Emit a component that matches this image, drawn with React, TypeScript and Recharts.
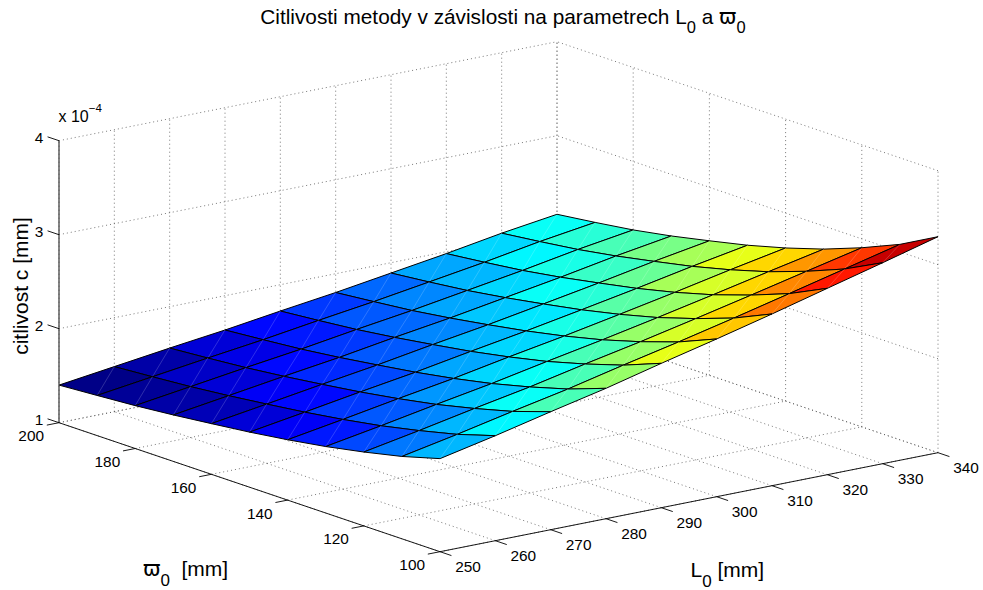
import { ScatterChart, Scatter, XAxis, YAxis } from 'recharts'

// L0 [mm] along one side, w0 [mm] along the other
const lValues = [250, 260, 270, 280, 290, 300, 310, 320, 330, 340]
const wValues = [100, 110, 120, 130, 140, 150, 160, 170, 180, 190, 200]

// citlivost c [x 10^-4 mm], one row per L0, one column per w0
const zGrid = [
  [1.99, 1.876, 1.786, 1.707, 1.642, 1.586, 1.539, 1.494, 1.456, 1.427, 1.4],
  [2.117, 1.994, 1.897, 1.811, 1.741, 1.681, 1.63, 1.582, 1.541, 1.509, 1.48],
  [2.255, 2.121, 2.015, 1.921, 1.845, 1.779, 1.723, 1.671, 1.626, 1.591, 1.56],
  [2.387, 2.242, 2.127, 2.026, 1.943, 1.872, 1.812, 1.755, 1.706, 1.669, 1.635],
  [2.536, 2.379, 2.254, 2.144, 2.055, 1.977, 1.912, 1.851, 1.798, 1.757, 1.72],
  [2.678, 2.509, 2.374, 2.257, 2.16, 2.077, 2.006, 1.94, 1.883, 1.84, 1.8],
  [2.827, 2.646, 2.503, 2.377, 2.274, 2.185, 2.11, 2.04, 1.979, 1.932, 1.89],
  [2.983, 2.789, 2.636, 2.502, 2.391, 2.296, 2.216, 2.14, 2.075, 2.025, 1.98],
  [3.138, 2.934, 2.772, 2.63, 2.514, 2.413, 2.329, 2.249, 2.181, 2.128, 2.08],
  [3.298, 3.079, 2.906, 2.754, 2.629, 2.521, 2.431, 2.345, 2.272, 2.215, 2.164],
]

const lTicks = [250, 260, 270, 280, 290, 300, 310, 320, 330, 340]
const wTicks = [100, 120, 140, 160, 180, 200]
const zTicks = [1, 2, 3, 4]

const WIDTH = 983
const HEIGHT = 590
const FONT = '"Liberation Sans", Arial, sans-serif'
const SYMBOL_FONT = '"DejaVu Sans", sans-serif'

// colour limits of the jet map
const cLow = 1.454
const cHigh = 3.24

// orthographic view of the 3D box onto the flat chart axes
const project = (l: number, w: number, z: number) => ({
  x: 440 + ((l - 250) * 498) / 90 - ((w - 100) * 381) / 100,
  y: 551.7 - ((l - 250) * 99) / 90 - ((w - 100) * 129) / 100 - (z - 1) * 94,
})

const jet = (t: number) => {
  const n = Math.min(63, Math.max(0, Math.floor(t * 64)))
  const v = (n + 0.5) / 64
  const ch = (a: number) => Math.round(255 * Math.max(0, Math.min(1, a)))
  const r = ch(Math.min(4 * v - 1.5, -4 * v + 4.5))
  const g = ch(Math.min(4 * v - 0.5, -4 * v + 3.5))
  const b = ch(Math.min(4 * v + 0.5, -4 * v + 2.5))
  return `rgb(${r},${g},${b})`
}

const cellMean = (i: number, j: number) =>
  (zGrid[i][j] + zGrid[i + 1][j] + zGrid[i][j + 1] + zGrid[i + 1][j + 1]) / 4

// back corner first so nearer cells paint over farther ones
const cells: { i: number; j: number }[] = []
for (let i = lValues.length - 2; i >= 0; i--) {
  for (let j = wValues.length - 2; j >= 0; j--) cells.push({ i, j })
}

const NoDot = () => null

const gridStyle = { stroke: '#555', strokeWidth: 0.8, strokeDasharray: '1 3' }
const axisStyle = { stroke: '#000', strokeWidth: 0.9 }
const zAxisStyle = { stroke: '#444', strokeWidth: 1.3 }

const lMin = lValues[0]
const lMax = lValues[lValues.length - 1]
const wMin = wValues[0]
const wMax = wValues[wValues.length - 1]

const gridLines = [
  ...lTicks.map((l) => [project(l, wMax, 1), project(l, wMax, 4)]),
  ...lTicks.map((l) => [project(l, wMin, 1), project(l, wMax, 1)]),
  ...wTicks.map((w) => [project(lMax, w, 1), project(lMax, w, 4)]),
  ...wTicks.map((w) => [project(lMin, w, 1), project(lMax, w, 1)]),
  ...zTicks.map((z) => [project(lMin, wMax, z), project(lMax, wMax, z)]),
  ...zTicks.map((z) => [project(lMax, wMin, z), project(lMax, wMax, z)]),
]

const zAxisLine = [project(lMin, wMax, 1), project(lMin, wMax, 4)]

const axisLines = [
  [project(lMin, wMin, 1), project(lMin, wMax, 1)],
  [project(lMin, wMin, 1), project(lMax, wMin, 1)],
  ...wTicks.map((w) => [project(lMin, w, 1), project(lMin - 2.2, w, 1)]),
  ...lTicks.map((l) => [project(l, wMin, 1), project(l, wMin - 3, 1)]),
  ...zTicks.map((z) => [project(lMin, wMax, z), project(lMin, wMax + 3, z)]),
]

const wLabels = wTicks.map((w) => ({ ...project(lMin, w, 1), label: String(w) }))
const lLabels = lTicks.map((l) => ({ ...project(l, wMin, 1), label: String(l) }))
const zLabels = zTicks.map((z) => ({ ...project(lMin, wMax, z), label: String(z) }))

const tickText = (dx: number, dy: number) => (props: any) => (
  <text
    x={props.cx + dx}
    y={props.cy + dy}
    textAnchor="middle"
    dominantBaseline="central"
    fontFamily={FONT}
    fontSize={15.4}
    fill="#000"
  >
    {props.payload.label}
  </text>
)

const cellLine = (color: string) => (props: any) => {
  const pts = props.points as { x: number; y: number }[]
  return (
    <g>
      <polygon
        points={pts.map((p) => `${p.x},${p.y}`).join(' ')}
        fill={color}
        stroke="#000"
        strokeWidth={1}
        strokeLinejoin="round"
      />
      <line
        x1={pts[0].x}
        y1={pts[0].y}
        x2={pts[2].x}
        y2={pts[2].y}
        stroke="#fff"
        strokeOpacity={0.3}
        strokeWidth={0.6}
      />
    </g>
  )
}

export default function App() {
  return (
    <div style={{ position: 'absolute', left: 0, top: 0, width: WIDTH, height: HEIGHT, background: '#fff' }}>
      <ScatterChart width={WIDTH} height={HEIGHT} margin={{ top: 0, right: 0, bottom: 0, left: 0 }}>
        <XAxis type="number" dataKey="x" domain={[0, WIDTH]} hide />
        <YAxis type="number" dataKey="y" domain={[0, HEIGHT]} reversed hide />

        {gridLines.map((pts, k) => (
          <Scatter key={`g${k}`} data={pts} line={gridStyle} shape={NoDot} isAnimationActive={false} />
        ))}

        {cells.map(({ i, j }) => {
          const t = (cellMean(i, j) - cLow) / (cHigh - cLow)
          const corners = [
            project(lValues[i], wValues[j], zGrid[i][j]),
            project(lValues[i + 1], wValues[j], zGrid[i + 1][j]),
            project(lValues[i + 1], wValues[j + 1], zGrid[i + 1][j + 1]),
            project(lValues[i], wValues[j + 1], zGrid[i][j + 1]),
          ]
          return (
            <Scatter
              key={`c${i}-${j}`}
              data={corners}
              line={cellLine(jet(t))}
              shape={NoDot}
              isAnimationActive={false}
            />
          )
        })}

        <Scatter data={zAxisLine} line={zAxisStyle} shape={NoDot} isAnimationActive={false} />
        {axisLines.map((pts, k) => (
          <Scatter key={`a${k}`} data={pts} line={axisStyle} shape={NoDot} isAnimationActive={false} />
        ))}

        <Scatter data={wLabels} shape={tickText(-27.8, 13)} isAnimationActive={false} />
        <Scatter data={lLabels} shape={tickText(28, 14.8)} isAnimationActive={false} />
        <Scatter data={zLabels} shape={tickText(-20, -3)} isAnimationActive={false} />

        <text x={503} y={23.5} textAnchor="middle" fontFamily={FONT} fontSize={20.8} fill="#000">
          Citlivosti metody v závislosti na parametrech L
          <tspan fontSize={16.5} dy={9}>0</tspan>
          <tspan dy={-9}> a </tspan>
          <tspan fontFamily={SYMBOL_FONT}>ϖ</tspan>
          <tspan fontSize={16.5} dy={9}>0</tspan>
        </text>

        <text x={58.5} y={122} fontFamily={FONT} fontSize={16} fill="#000">
          x 10
          <tspan fontSize={11.5} dy={-10}>−4</tspan>
        </text>

        <text
          x={27.5}
          y={286}
          transform="rotate(-90 27.5 286)"
          textAnchor="middle"
          fontFamily={FONT}
          fontSize={21}
          fill="#000"
        >
          citlivost c [mm]
        </text>

        <text x={143} y={576} fontFamily={FONT} fontSize={21} fill="#000">
          <tspan fontFamily={SYMBOL_FONT}>ϖ</tspan>
          <tspan fontSize={17} dy={10}>0</tspan>
          <tspan x={181.5} dy={-10}>[mm]</tspan>
        </text>

        <text x={690.5} y={577} fontFamily={FONT} fontSize={21} fill="#000">
          L
          <tspan fontSize={17} dy={10}>0</tspan>
          <tspan dy={-10}> [mm]</tspan>
        </text>
      </ScatterChart>
    </div>
  )
}
